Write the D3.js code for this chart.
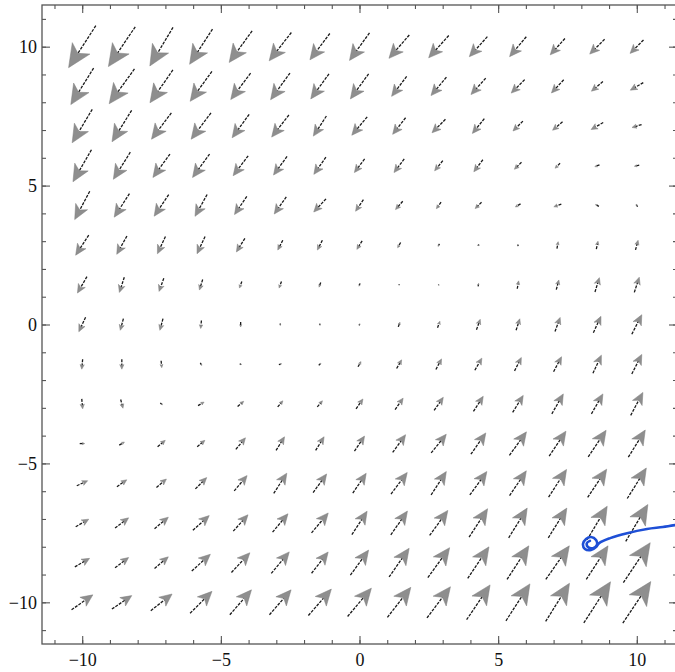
<!DOCTYPE html>
<html>
<head>
<meta charset="utf-8">
<script src="https://cdn.jsdelivr.net/npm/d3@7"></script>
<style>
  body { margin: 0; background: #fff; }
  svg { display: block; }
</style>
</head>
<body>
<div id="chart"></div>
<script>
const AREA_WIDTH = 675;
const AREA_HEIGHT = 672;

// sample points of the field (columns left->right, rows top->bottom)
const gridX = [-10, -8.571, -7.143, -5.714, -4.286, -2.857, -1.429, 0, 1.429, 2.857, 4.286, 5.714, 7.143, 8.571, 10];
const gridY = [10, 8.571, 7.143, 5.714, 4.286, 2.857, 1.429, 0, -1.429, -2.857, -4.286, -5.714, -7.143, -8.571, -10];

// arrow magnitude, one row per gridY value
const speed = [
  [50, 48, 45, 42, 39, 36, 33, 34, 31, 30, 27, 26, 22, 21, 19],
  [43, 43, 40, 37, 33, 33, 31, 31, 25, 24, 22, 19, 18, 15, 15],
  [39, 37, 33, 33, 29, 28, 24, 24, 21, 19, 19, 14, 13, 14, 10],
  [37, 32, 29, 29, 25, 23, 21, 17, 17, 13, 15, 10, 7, 5, 5],
  [32, 28, 26, 25, 22, 21, 18, 14, 11, 8, 9, 6, 8, 4, 3],
  [24, 21, 19, 19, 16, 11, 11, 10, 6, 3, 2, 2, 7, 8, 10],
  [19, 16, 14, 11, 7, 7, 5, 3, 1, 1, 3, 8, 10, 15, 16],
  [16, 12, 12, 8, 5, 2, 2, 2, 5, 7, 11, 12, 15, 18, 22],
  [10, 10, 7, 3, 2, 3, 3, 6, 10, 12, 14, 15, 17, 20, 22],
  [10, 9, 3, 7, 8, 8, 8, 12, 14, 16, 18, 20, 23, 23, 26],
  [5, 6, 10, 10, 15, 16, 16, 18, 22, 24, 26, 29, 30, 32, 32],
  [12, 12, 13, 16, 20, 24, 23, 24, 27, 28, 29, 30, 33, 34, 36],
  [15, 17, 18, 22, 22, 24, 26, 28, 29, 31, 34, 35, 35, 39, 43],
  [17, 17, 18, 25, 27, 28, 27, 31, 35, 37, 38, 40, 41, 40, 48],
  [26, 24, 27, 31, 33, 33, 35, 37, 38, 39, 42, 44, 45, 49, 50]
];

// arrow direction in degrees (0 = right, 90 = up)
const direction = [
  [237, 236, 239, 237, 234, 232, 233, 234, 229, 228, 228, 230, 228, 225, 225],
  [238, 234, 235, 234, 233, 234, 234, 234, 233, 230, 228, 225, 227, 220, 210],
  [239, 238, 233, 233, 234, 232, 237, 230, 232, 225, 231, 225, 220, 210, 197],
  [240, 238, 234, 234, 233, 234, 235, 233, 233, 231, 233, 225, 225, 202, 192],
  [242, 237, 236, 241, 236, 235, 227, 236, 229, 234, 225, 210, 200, 150, 120],
  [237, 241, 245, 245, 238, 243, 243, 238, 240, 240, 200, 100, 80, 78, 75],
  [240, 252, 250, 253, 250, 250, 250, 250, 250, 60, 80, 80, 75, 73, 72],
  [245, 255, 255, 265, 270, 270, 280, 60, 70, 70, 70, 72, 70, 65, 63],
  [265, 270, 275, 300, 340, 20, 40, 60, 60, 62, 60, 63, 62, 65, 63],
  [275, 285, 320, 30, 40, 50, 50, 55, 55, 55, 57, 58, 60, 60, 62],
  [0, 30, 40, 40, 50, 58, 58, 56, 54, 51, 55, 54, 56, 56, 58],
  [25, 35, 40, 45, 50, 57, 54, 56, 53, 57, 54, 56, 57, 56, 58],
  [30, 37, 40, 42, 48, 50, 50, 57, 55, 54, 57, 58, 58, 59, 59],
  [30, 37, 40, 42, 47, 50, 52, 54, 55, 54, 56, 57, 55, 57, 56],
  [35, 34, 38, 45, 49, 49, 49, 50, 52, 53, 56, 57, 58, 57, 56]
];

const labelTicks = [-10, -5, 0, 5, 10];
const minorTicks = [-11, -10, -9, -8, -7, -6, -5, -4, -3, -2, -1, 0, 1, 2, 3, 4, 5, 6, 7, 8, 9, 10, 11];

// hand drawn trajectory (blue ink)
const trajX = [11.38, 10.94, 10.37, 9.65, 9.04, 8.64, 8.53, 8.35, 8.13, 8.06, 8.17, 8.35, 8.53, 8.56, 8.42, 8.24, 8.20, 8.31];
const trajY = [-7.22, -7.29, -7.36, -7.51, -7.69, -7.87, -8.01, -8.12, -8.08, -7.90, -7.72, -7.65, -7.76, -7.94, -8.05, -8.01, -7.87, -7.79];

const svg = d3.select('#chart')
              .append('svg')
              .attr('width', AREA_WIDTH)
              .attr('height', AREA_HEIGHT);

const x = d3.scaleLinear().domain([-11.45, 11.45]).range([42, 677]);
const y = d3.scaleLinear().domain([-11.5, 11.5]).range([644, 5]);
const len = d3.scaleLinear().domain([0, 50]).range([0, 50]);

const FONT = '"Liberation Serif", "DejaVu Serif", serif';

// frame
svg.append('rect')
     .attr('x', x(-11.45))
     .attr('y', y(11.5))
     .attr('width', x(11.45) - x(-11.45))
     .attr('height', y(-11.5) - y(11.5))
     .attr('fill', 'none')
     .attr('stroke', '#555')
     .attr('stroke-width', 1.3);

function tickAxis(axis, transform, size, labels) {
  const g = svg.append('g')
               .attr('transform', transform)
               .call(axis.tickSize(size).tickPadding(9)
                         .tickFormat(labels ? d3.format('d') : ''));
  g.select('.domain').remove();
  g.selectAll('.tick line').attr('stroke', '#555').attr('stroke-width', 1.1);
  g.selectAll('.tick text')
     .style('font-family', FONT)
     .style('font-size', '18px')
     .attr('fill', '#111');
  return g;
}

const b = `translate(0,${y(-11.5)})`;
const t = `translate(0,${y(11.5)})`;
const l = `translate(${x(-11.45)},0)`;
const r = `translate(${x(11.45)},0)`;

tickAxis(d3.axisBottom(x).tickValues(minorTicks), b, -4, false);
tickAxis(d3.axisBottom(x).tickValues(labelTicks), b, -8, true);
tickAxis(d3.axisTop(x).tickValues(minorTicks), t, -4, false);
tickAxis(d3.axisTop(x).tickValues(labelTicks), t, -8, false);
tickAxis(d3.axisLeft(y).tickValues(minorTicks), l, -4, false);
tickAxis(d3.axisLeft(y).tickValues(labelTicks), l, -8, true)
  .selectAll('.tick text').attr('x', -5);
tickAxis(d3.axisRight(y).tickValues(minorTicks), r, -4, false);
tickAxis(d3.axisRight(y).tickValues(labelTicks), r, -8, false);

// arrows
const arrows = [];
gridY.forEach((gy, i) => {
  gridX.forEach((gx, j) => {
    arrows.push({ gx, gy, s: speed[i][j], d: direction[i][j] });
  });
});

function geom(a) {
  const L = len(a.s);
  const ux = Math.cos(a.d * Math.PI / 180);
  const uy = -Math.sin(a.d * Math.PI / 180);
  const nx = -uy, ny = ux;
  const cx = x(a.gx), cy = y(a.gy);
  const tip = [cx + ux * L / 2, cy + uy * L / 2];
  const tail = [cx - ux * L / 2, cy - uy * L / 2];
  const h = 0.46 * L, w = 0.21 * L;
  const back = [tip[0] - ux * h, tip[1] - uy * h];
  const notch = [tip[0] - ux * h * 0.74, tip[1] - uy * h * 0.74];
  return {
    tail, tip, notch,
    head: `M${tip}L${back[0] + nx * w},${back[1] + ny * w}L${notch}L${back[0] - nx * w},${back[1] - ny * w}Z`
  };
}

const ag = svg.append('g');
const arrowG = ag.selectAll('g')
                 .data(arrows)
                 .enter()
                 .append('g');

arrowG.append('line')
        .attr('x1', d => geom(d).tail[0])
        .attr('y1', d => geom(d).tail[1])
        .attr('x2', d => geom(d).notch[0])
        .attr('y2', d => geom(d).notch[1])
        .attr('stroke', '#1a1a1a')
        .attr('stroke-width', 1.3)
        .attr('stroke-dasharray', '3,1.2');

arrowG.append('path')
        .attr('d', d => geom(d).head)
        .attr('fill', '#8e8e8e')
        .attr('stroke', '#7d7d7d')
        .attr('stroke-width', 0.5);

// blue trajectory
const traj = trajX.map((v, i) => [v, trajY[i]]);
svg.append('path')
     .datum(traj)
     .attr('d', d3.line().x(d => x(d[0])).y(d => y(d[1])).curve(d3.curveCatmullRom))
     .attr('fill', 'none')
     .attr('stroke', '#1e4fd6')
     .attr('stroke-width', 2.6)
     .attr('stroke-linecap', 'round')
     .attr('stroke-linejoin', 'round');
</script>
</body>
</html>
